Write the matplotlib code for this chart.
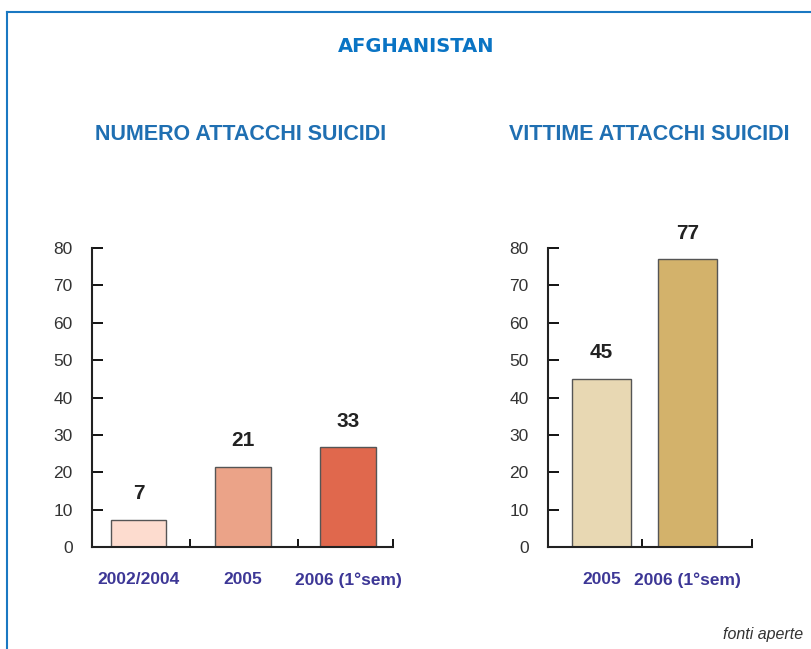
import matplotlib.pyplot as plt
from matplotlib.lines import Line2D

# left chart: number of suicide attacks
cat_left = ['2002/2004', '2005', '2006 (1°sem)']
labels_left = [7, 21, 33]
bars_left = [7.2, 21.5, 26.7]   # bar heights as drawn in the picture
col_left = ['#fddccf', '#eba388', '#e0684d']

# right chart: victims of suicide attacks
cat_right = ['2005', '2006 (1°sem)']
labels_right = [45, 77]
bars_right = [45, 77]
col_right = ['#e8d8b3', '#d3b26b']

yticks = [0, 10, 20, 30, 40, 50, 60, 70, 80]

fig = plt.figure(figsize=(8.11, 6.49), dpi=100)

blue = '#1a78c2'
fig.add_artist(Line2D([7/811, 1], [1-12/649, 1-12/649], color=blue, lw=1.5))
fig.add_artist(Line2D([7/811, 7/811], [0, 1-12/649], color=blue, lw=1.5))

fig.text(416/811, 1-46/649, 'AFGHANISTAN', ha='center', va='center', color='#0a74c4',
         fontsize=14, fontweight='bold', family='DejaVu Sans')
fig.text(241/811, 1-135/649, 'NUMERO ATTACCHI SUICIDI', ha='center', va='center',
         color='#1f6fb2', fontsize=15.5, fontweight='bold', family='Liberation Sans')
fig.text(649/811, 1-135/649, 'VITTIME ATTACCHI SUICIDI', ha='center', va='center',
         color='#1f6fb2', fontsize=15.5, fontweight='bold', family='Liberation Sans')
fig.text(803/811, 1-634/649, 'fonti aperte', ha='right', va='center', color='#333333',
         fontsize=11.5, style='italic', family='Liberation Sans')


def draw(ax, cats, heights, labels, colors, width, xlim, bounds):
    x = list(range(len(cats)))
    ax.bar(x, heights, width=width, color=colors, edgecolor='#555555', linewidth=1)
    for xi, h, lab in zip(x, heights, labels):
        ax.text(xi, h + 7, str(lab), ha='center', va='center', fontsize=15,
                fontweight='bold', color='#222222', family='Liberation Sans')
    ax.set_xlim(*xlim)
    ax.set_ylim(0, 80)
    ax.set_yticks(yticks)
    ax.set_yticklabels([str(t) for t in yticks], family='Liberation Sans', fontsize=12.5,
                       color='#333333')
    ax.tick_params(axis='y', direction='in', length=8, width=1.3, pad=14)
    ax.set_xticks(x)
    ax.set_xticklabels(cats, family='Liberation Sans', fontsize=12.5, fontweight='bold',
                       color='#3d3796')
    ax.tick_params(axis='x', which='major', length=0, pad=18)
    ax.set_xticks(bounds, minor=True)
    ax.tick_params(axis='x', which='minor', direction='in', length=6, width=1.3)
    for s in ['top', 'right']:
        ax.spines[s].set_visible(False)
    for s in ['left', 'bottom']:
        ax.spines[s].set_linewidth(1.5)
        ax.spines[s].set_color('#222222')


ax1 = fig.add_axes([92/811, 1-547/649, 301/811, 299/649])
draw(ax1, cat_left, bars_left, labels_left, col_left, 0.53,
     (-0.444, 2.43), [0.49, 1.52, 2.43])

ax2 = fig.add_axes([548/811, 1-547/649, 204/811, 299/649])
draw(ax2, cat_right, bars_right, labels_right, col_right, 0.68,
     (-0.622, 1.75), [0.47, 1.75])

fig.savefig('out.png', dpi=100)
